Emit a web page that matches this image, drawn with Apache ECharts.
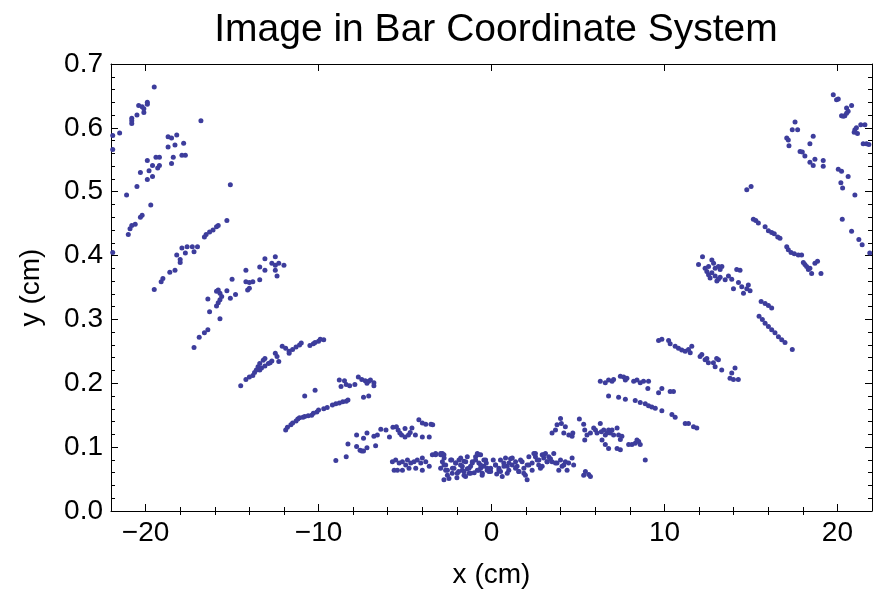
<!DOCTYPE html>
<html lang="en">
<head>
<meta charset="UTF-8">
<title>Image in Bar Coordinate System</title>
<script src="https://cdn.jsdelivr.net/npm/echarts@6/dist/echarts.min.js"></script>
<style>
  html, body { margin: 0; padding: 0; background: #fff; }
  #chart { width: 873px; height: 596px; }
</style>
</head>
<body>
<div id="chart"></div>
<script>
// axis ticks
var xMajorTicks = [-20, -10, 0, 10, 20];
var xMinorTicks = [-18, -16, -14, -12, -8, -6, -4, -2, 2, 4, 6, 8, 12, 14, 16, 18];

// points, grouped by arc segment
var leftTop = [[-19.5,0.664],[-19.9,0.640],[-19.9,0.637],[-20.4,0.635],[-20.2,0.633],[-20.1,0.630],[-20.1,0.624],[-20.5,0.620],[-20.8,0.615],[-20.8,0.611],[-20.8,0.607],[-16.8,0.611],[-21.9,0.588],[-21.5,0.592],[-21.9,0.566],[-18.7,0.586],[-18.5,0.584],[-18.2,0.589],[-18.7,0.570],[-18.3,0.573],[-17.8,0.576],[-19.4,0.554],[-19.2,0.554],[-18.4,0.554],[-17.9,0.557],[-17.7,0.557],[-19.9,0.549],[-19.6,0.541],[-19.2,0.541],[-19.3,0.537],[-18.5,0.544],[-20.3,0.530],[-19.8,0.533],[-19.9,0.519],[-19.6,0.524],[-20.5,0.508],[-21.1,0.495],[-15.1,0.511],[-19.7,0.479],[-20.2,0.463],[-20.3,0.460],[-20.6,0.449],[-20.8,0.447],[-20.9,0.442],[-21.0,0.433],[-21.9,0.405]];

var leftUpper = [[-15.3,0.455],[-15.8,0.447],[-15.9,0.445],[-16.1,0.440],[-16.3,0.437],[-16.5,0.433],[-16.6,0.429],[-17.0,0.414],[-17.3,0.414],[-17.6,0.414],[-17.2,0.406],[-17.7,0.404],[-17.9,0.412],[-18.2,0.401],[-18.0,0.394],[-18.0,0.389],[-18.3,0.377],[-18.6,0.374],[-19.0,0.364],[-19.1,0.359],[-19.5,0.347],[-12.5,0.398],[-13.1,0.395],[-12.7,0.388],[-12.5,0.385],[-12.3,0.388],[-12.0,0.385],[-12.5,0.377],[-12.4,0.368],[-13.1,0.377],[-13.4,0.382],[-13.8,0.359],[-13.4,0.362],[-14.2,0.377],[-14.0,0.358],[-14.2,0.359],[-14.0,0.349],[-14.1,0.346],[-15.0,0.363],[-14.8,0.339],[-15.1,0.333],[-15.3,0.345],[-15.8,0.346],[-15.9,0.344],[-15.7,0.341],[-15.6,0.336],[-15.8,0.326],[-15.7,0.331],[-15.9,0.321],[-16.4,0.332],[-16.3,0.312],[-15.7,0.301],[-16.4,0.284],[-16.6,0.279],[-16.9,0.272],[-17.2,0.256]];

var leftMid = [[-14.5,0.196],[-14.2,0.206],[-14.0,0.210],[-13.8,0.212],[-13.7,0.217],[-13.6,0.221],[-13.5,0.226],[-13.4,0.231],[-13.2,0.236],[-13.1,0.239],[-13.4,0.221],[-13.3,0.224],[-13.1,0.227],[-12.9,0.231],[-12.8,0.232],[-12.7,0.235],[-12.5,0.247],[-12.4,0.242],[-12.3,0.234],[-12.1,0.258],[-11.9,0.255],[-11.7,0.250],[-11.7,0.247],[-11.5,0.253],[-11.3,0.257],[-11.1,0.260],[-11.0,0.263],[-10.5,0.259],[-10.3,0.262],[-10.2,0.264],[-10.0,0.266],[-9.7,0.268],[-9.9,0.269]];

var leftLow = [[-11.9,0.127],[-11.8,0.131],[-11.6,0.135],[-11.5,0.138],[-11.3,0.141],[-11.2,0.144],[-11.1,0.146],[-10.9,0.147],[-10.8,0.148],[-10.6,0.149],[-10.4,0.150],[-10.3,0.153],[-10.1,0.155],[-10.0,0.158],[-9.7,0.160],[-9.5,0.162],[-9.2,0.166],[-9.0,0.168],[-8.8,0.169],[-8.6,0.171],[-8.4,0.172],[-8.3,0.174],[-10.8,0.180],[-10.2,0.189],[-8.8,0.205],[-8.5,0.204],[-8.7,0.195],[-8.4,0.198],[-8.2,0.196],[-7.9,0.198],[-7.7,0.210],[-7.5,0.206],[-7.3,0.204],[-7.1,0.203],[-7.0,0.205],[-6.8,0.201],[-6.8,0.196],[-7.2,0.200],[-7.4,0.178],[-7.1,0.180]];

var leftBottom = [[-9.0,0.079],[-8.4,0.085],[-8.3,0.105],[-7.8,0.119],[-7.8,0.101],[-7.6,0.095],[-7.5,0.094],[-7.4,0.094],[-7.2,0.122],[-7.4,0.114],[-7.2,0.099],[-6.7,0.102],[-6.8,0.117],[-6.6,0.119],[-6.4,0.128],[-6.1,0.127],[-5.9,0.116],[-5.7,0.131],[-5.5,0.132],[-5.4,0.127],[-5.3,0.122],[-5.2,0.119],[-5.0,0.116],[-4.8,0.119],[-5.0,0.129],[-4.7,0.123],[-4.6,0.130],[-4.2,0.143],[-4.0,0.138],[-3.8,0.136],[-3.5,0.136],[-3.4,0.135],[-4.0,0.116],[-3.6,0.116],[-4.4,0.119]];

var center = [[-5.73,0.077],[-5.54,0.080],[-5.34,0.075],[-5.15,0.077],[-4.96,0.072],[-4.86,0.080],[-4.67,0.075],[-4.48,0.077],[-4.29,0.080],[-4.09,0.075],[-4.0,0.083],[-3.8,0.077],[-3.6,0.070],[-5.63,0.064],[-5.44,0.064],[-5.15,0.064],[-4.77,0.067],[-4.38,0.067],[-4.0,0.064],[-3.42,0.088],[-3.23,0.090],[-2.94,0.088],[-2.84,0.090],[-2.75,0.088],[-2.84,0.077],[-2.75,0.072],[-2.94,0.067],[-2.65,0.064],[-2.55,0.056],[-2.75,0.049],[-2.46,0.051],[-2.27,0.059],[-2.17,0.067],[-2.07,0.075],[-1.88,0.080],[-1.79,0.072],[-1.69,0.064],[-1.59,0.056],[-1.5,0.054],[-1.3,0.059],[-1.21,0.070],[-1.11,0.077],[-0.92,0.085],[-0.82,0.090],[-0.63,0.088],[-0.73,0.075],[-0.63,0.067],[-0.73,0.064],[-0.54,0.056],[-0.44,0.070],[-0.34,0.080],[-0.25,0.064],[-0.15,0.062],[-0.05,0.067],[0.23,0.072],[0.43,0.067],[0.52,0.062],[0.62,0.054],[0.71,0.075],[0.81,0.083],[0.91,0.070],[1.0,0.064],[1.2,0.072],[1.39,0.077],[1.48,0.070],[1.58,0.062],[1.68,0.080],[1.87,0.067],[1.96,0.056],[2.06,0.049],[2.16,0.072],[2.35,0.075],[2.45,0.090],[2.54,0.085],[2.64,0.080],[2.73,0.072],[2.83,0.067],[2.93,0.088],[3.02,0.083],[3.12,0.090],[3.21,0.077],[3.31,0.085],[3.5,0.077],[3.6,0.090],[3.79,0.075],[3.89,0.064],[4.08,0.070],[4.27,0.077],[4.37,0.064],[4.46,0.075],[4.66,0.083],[4.75,0.072],[5.43,0.062],[5.33,0.056],[-1.9,0.062],[-1.4,0.066],[-1.0,0.060],[-0.3,0.075],[0.1,0.080],[-2.3,0.080],[-1.6,0.078],[0.3,0.058],[1.1,0.082],[-2.0,0.052]];

var centerDense = [[-3.23,0.088],[-2.94,0.090],[-2.74,0.083],[-2.65,0.072],[-2.55,0.064],[-2.36,0.080],[-2.26,0.067],[-2.07,0.075],[-1.98,0.059],[-1.78,0.083],[-1.69,0.070],[-1.59,0.062],[-1.49,0.077],[-1.40,0.085],[-1.30,0.067],[-1.21,0.059],[-1.11,0.075],[-0.92,0.080],[-0.82,0.064],[-0.73,0.088],[-0.63,0.072],[-0.53,0.059],[-0.44,0.080],[-0.24,0.067],[-0.05,0.062],[0.24,0.072],[0.43,0.064],[0.52,0.080],[0.72,0.070],[0.91,0.059],[1.01,0.075],[1.20,0.083],[1.39,0.067],[1.58,0.062],[1.77,0.077],[1.87,0.059],[2.06,0.072],[2.16,0.085],[2.35,0.064],[2.54,0.090],[2.74,0.080],[2.93,0.070],[3.02,0.088],[3.22,0.077],[3.41,0.082],[3.70,0.075],[3.99,0.080],[4.18,0.072]];

var rightBottom = [[3.5,0.122],[3.7,0.127],[3.79,0.135],[3.99,0.145],[4.04,0.137],[4.27,0.132],[4.18,0.122],[4.47,0.119],[4.66,0.117],[4.7,0.122],[5.08,0.144],[5.33,0.136],[5.39,0.127],[5.52,0.119],[5.72,0.122],[5.91,0.130],[6.01,0.127],[6.1,0.122],[6.29,0.137],[6.35,0.124],[6.49,0.127],[6.58,0.119],[6.68,0.122],[6.77,0.127],[6.87,0.122],[6.97,0.127],[7.06,0.119],[7.26,0.130],[7.35,0.119],[7.45,0.112],[7.54,0.117],[6.39,0.111],[6.58,0.104],[6.77,0.098],[7.26,0.098],[7.45,0.096],[5.39,0.111],[7.93,0.104],[8.12,0.104],[8.31,0.106],[8.51,0.109],[8.6,0.104],[8.41,0.111],[8.89,0.080],[5.62,0.057],[5.72,0.054]];

var rightMid = [[6.29,0.203],[6.58,0.201],[6.77,0.205],[6.97,0.203],[7.06,0.206],[7.45,0.211],[7.64,0.210],[7.74,0.205],[7.83,0.208],[8.22,0.203],[8.41,0.205],[8.6,0.201],[8.79,0.203],[9.08,0.203],[9.04,0.192],[9.66,0.185],[9.85,0.192],[10.33,0.187],[10.52,0.187],[6.77,0.180],[7.35,0.178],[7.74,0.175],[8.31,0.173],[8.6,0.170],[8.89,0.168],[9.08,0.165],[9.27,0.163],[9.47,0.161],[9.85,0.157],[10.43,0.151],[10.62,0.147],[11.2,0.137],[11.39,0.137],[11.68,0.132],[11.87,0.130]];

var rightUpper = [[9.66,0.267],[9.85,0.269],[10.24,0.267],[10.33,0.262],[10.62,0.258],[10.81,0.255],[11.0,0.252],[11.2,0.250],[11.39,0.253],[11.49,0.248],[11.58,0.258],[12.06,0.242],[12.16,0.245],[12.35,0.237],[12.45,0.239],[12.54,0.232],[12.83,0.232],[12.93,0.226],[13.12,0.237],[13.31,0.221],[13.02,0.239],[14.08,0.224],[13.89,0.216],[13.79,0.208],[13.99,0.206],[14.27,0.206],[12.2,0.398],[11.97,0.386],[12.35,0.380],[12.55,0.383],[12.74,0.393],[12.84,0.388],[12.93,0.380],[13.12,0.383],[13.22,0.378],[13.32,0.383],[12.74,0.373],[12.55,0.370],[12.64,0.365],[13.03,0.360],[13.12,0.363],[13.22,0.366],[13.51,0.362],[13.7,0.368],[13.89,0.363],[13.99,0.348],[14.18,0.378],[14.37,0.377],[14.28,0.358],[14.47,0.351],[14.57,0.341],[14.76,0.348],[14.85,0.354],[14.95,0.345],[12.45,0.375],[12.93,0.368],[15.59,0.328],[15.82,0.325],[16.01,0.322],[16.2,0.318],[15.47,0.305],[15.66,0.300],[15.82,0.294],[16.01,0.289],[16.2,0.284],[16.39,0.279],[16.59,0.273],[16.78,0.268],[16.97,0.264],[17.39,0.253]];

var rightTop = [[15.14,0.457],[15.28,0.455],[15.43,0.451],[15.82,0.445],[16.01,0.439],[16.2,0.436],[16.35,0.434],[16.55,0.429],[16.68,0.427],[17.07,0.414],[17.16,0.409],[17.32,0.405],[17.51,0.403],[17.74,0.401],[17.93,0.401],[18.03,0.389],[18.12,0.386],[18.32,0.378],[18.51,0.372],[18.41,0.380],[18.7,0.388],[18.85,0.391],[19.05,0.372],[18.22,0.383],[20.28,0.457],[20.82,0.438],[21.24,0.425],[21.43,0.417],[21.87,0.404],[19.76,0.652],[19.95,0.644],[20.05,0.645],[20.53,0.631],[20.62,0.626],[20.82,0.635],[20.24,0.619],[20.43,0.619],[20.53,0.623],[20.34,0.618],[21.01,0.597],[21.1,0.600],[20.97,0.593],[21.16,0.591],[21.35,0.605],[21.59,0.605],[21.49,0.575],[21.68,0.575],[21.82,0.574],[17.55,0.609],[17.39,0.597],[17.7,0.597],[17.07,0.584],[17.16,0.581],[17.2,0.572],[18.6,0.587],[18.41,0.575],[17.84,0.563],[17.97,0.562],[18.12,0.556],[18.41,0.546],[18.6,0.541],[18.7,0.551],[19.18,0.549],[19.18,0.540],[20.05,0.535],[20.24,0.532],[20.2,0.514],[20.3,0.506],[20.62,0.524],[21.01,0.495],[14.76,0.503],[15.01,0.508]];

var font = "'Liberation Sans', Arial, sans-serif";
var black = '#000';
var chart = echarts.init(document.getElementById('chart'));

function minusLabel(v) {
    return v < 0 ? '\u2212' + (-v) : String(v);
}

var lineStyle = { color: black, width: 1 };

var option = {
    animation: false,
    backgroundColor: '#fff',
    title: {
        text: 'Image in Bar Coordinate System',
        left: 491,
        top: 6,
        textAlign: 'center',
        textStyle: { fontFamily: font, fontSize: 39, fontWeight: 'normal', color: black }
    },
    grid: { left: 111, right: 1, top: 64, bottom: 85, containLabel: false },
    xAxis: [
        {
            type: 'value', min: -22, max: 22, position: 'bottom',
            name: 'x (cm)', nameLocation: 'middle', nameGap: 50,
            nameTextStyle: { fontFamily: font, fontSize: 28, color: black },
            axisLine: { show: true, onZero: false, lineStyle: lineStyle },
            axisTick: { show: true, inside: true, length: 7, customValues: xMajorTicks, lineStyle: lineStyle },
            axisLabel: { customValues: xMajorTicks, formatter: minusLabel, fontFamily: font, fontSize: 28, color: black, margin: 8 },
            splitLine: { show: false }
        },
        {
            type: 'value', min: -22, max: 22, position: 'bottom',
            axisLine: { show: false },
            axisTick: { show: true, inside: true, length: 4, customValues: xMinorTicks, lineStyle: lineStyle },
            axisLabel: { show: false },
            splitLine: { show: false }
        },
        {
            type: 'value', min: -22, max: 22, position: 'top',
            axisLine: { show: true, onZero: false, lineStyle: lineStyle },
            axisTick: { show: true, inside: true, length: 7, customValues: xMajorTicks, lineStyle: lineStyle },
            axisLabel: { show: false },
            splitLine: { show: false }
        },
        {
            type: 'value', min: -22, max: 22, position: 'top',
            axisLine: { show: false },
            axisTick: { show: true, inside: true, length: 4, customValues: xMinorTicks, lineStyle: lineStyle },
            axisLabel: { show: false },
            splitLine: { show: false }
        }
    ],
    yAxis: [
        {
            type: 'value', min: 0, max: 0.7, interval: 0.1, position: 'left',
            name: 'y (cm)', nameLocation: 'middle', nameGap: 66, nameRotate: 90,
            nameTextStyle: { fontFamily: font, fontSize: 28, color: black },
            axisLine: { show: true, onZero: false, lineStyle: lineStyle },
            axisTick: { show: true, inside: true, length: 7, lineStyle: lineStyle },
            minorTick: { show: true, splitNumber: 5, length: 4, lineStyle: lineStyle },
            axisLabel: { formatter: function (v) { return v.toFixed(1); }, fontFamily: font, fontSize: 28, color: black, margin: 8 },
            splitLine: { show: false },
            minorSplitLine: { show: false }
        },
        {
            type: 'value', min: 0, max: 0.7, interval: 0.1, position: 'right',
            axisLine: { show: true, onZero: false, lineStyle: lineStyle },
            axisTick: { show: true, inside: true, length: 7, lineStyle: lineStyle },
            minorTick: { show: true, splitNumber: 5, length: 4, lineStyle: lineStyle },
            axisLabel: { show: false },
            splitLine: { show: false },
            minorSplitLine: { show: false }
        }
    ],
    series: [{
        type: 'scatter',
        xAxisIndex: 0,
        yAxisIndex: 0,
        symbol: 'circle',
        symbolSize: 5,
        itemStyle: { color: '#3d3d9c', opacity: 1 },
        data: [].concat(leftTop, leftUpper, leftMid, leftLow, leftBottom, center, centerDense, rightBottom, rightMid, rightUpper, rightTop)
    }]
};

chart.setOption(option);
</script>
</body>
</html>
